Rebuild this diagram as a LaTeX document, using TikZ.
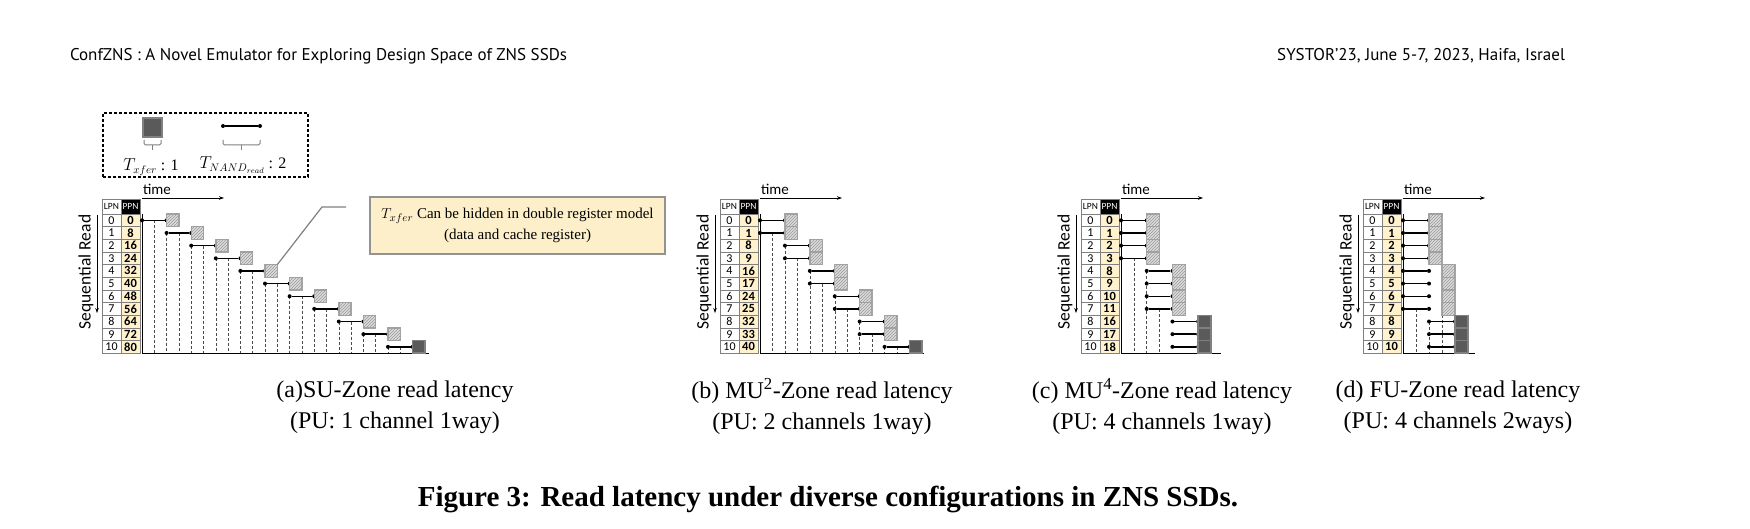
\documentclass[tikz,border=0pt]{standalone}
\usepackage{fontspec}
\setmainfont{Liberation Serif}
\newfontfamily\hdrfont{PT Sans}
\newfontfamily\calfont{Carlito}
\usetikzlibrary{patterns,arrows.meta}

\definecolor{cellyel}{HTML}{FFF2CC}
\definecolor{noteyel}{HTML}{FCEFC9}
\definecolor{sqborder}{HTML}{A6A6A6}
\definecolor{sqfill}{HTML}{DCDCDC}
\definecolor{darksq}{HTML}{5A5A5A}
\definecolor{tblline}{HTML}{808080}

\def\Yh{199}
\def\Yr{214}
\def\rh{12.65}
\def\Yb{353.15}

\tikzset{
  every node/.style={inner sep=0pt, outer sep=0pt},
  lpncell/.style={draw=tblline, line width=0.6pt, minimum width=19pt, minimum height=12.65pt, anchor=north west, font=\calfont\fontsize{12}{12}\selectfont},
  ppncell/.style={lpncell, fill=cellyel, font=\calfont\bfseries\fontsize{12.5}{12.5}\selectfont},
  hdrL/.style={draw=tblline, line width=0.6pt, minimum width=19pt, minimum height=15pt, anchor=north west, font=\calfont\fontsize{9.5}{9.5}\selectfont},
  hdrP/.style={hdrL, fill=black, text=white},
  seqlabel/.style={font=\calfont\fontsize{17.5}{17.5}\selectfont, rotate=90},
  timelabel/.style={font=\calfont\fontsize{15}{15}\selectfont, anchor=west},
  thinarrow/.style={line width=0.7pt, -{Stealth[length=5pt,width=3.5pt]}},
  nandline/.style={line width=1.4pt},
  enddot/.style={circle, fill=black, minimum size=4pt},
  lsq/.style={draw=sqborder, line width=1.4pt, fill=sqfill, postaction={pattern=north east lines, pattern color=gray!80}},
  dsq/.style={draw=gray, line width=1.4pt, fill=darksq},
  gridline/.style={densely dashed, line width=0.5pt, draw=black!70},
  axisline/.style={line width=0.6pt},
  subcap/.style={font=\fontsize{24}{31}\selectfont, align=center},
  bracket/.style={draw=gray, line width=1pt, rounded corners=1.5pt},
}

% #1 prefix, #2 X0, #3 unit, #4 PPN list, #5 segments s/q/style, #6 dashed j/row, #7 axis end (slots)
\newcommand\zpanel[7]{%
  \pgfmathsetmacro\tz{#2+40}%
  \node[hdrL] (#1-hl) at (#2,\Yh) {LPN};
  \node[hdrP] (#1-hp) at (#2+19,\Yh) {PPN};
  \foreach \pv [count=\kk from 0] in {#4} {
    \node[lpncell] (#1-l\kk) at (#2,\Yr+\kk*\rh) {\kk};
    \node[ppncell] (#1-p\kk) at (#2+19,\Yr+\kk*\rh) {\pv};
  }
  \foreach \jj/\rw in {#6} {
    \draw[gridline] (\tz+\jj*#3,\Yr+\rw*\rh+0.5*\rh) -- (\tz+\jj*#3,\Yb);
  }
  \coordinate (#1-o) at (\tz,\Yb);
  \coordinate (#1-top) at (\tz,\Yr);
  \coordinate (#1-end) at (\tz+#7*#3,\Yb);
  \draw[axisline] (#1-top) -- (#1-o) -- (#1-end);
  \coordinate (#1-t0) at (\tz,198);
  \coordinate (#1-t1) at (\tz+82,198);
  \draw[thinarrow] (#1-t0) -- (#1-t1);
  \node[timelabel] (#1-time) at (\tz+1,189) {time};
  \node[seqlabel] (#1-seq) at (#2-16,272) {Sequential Read};
  \coordinate (#1-sa) at (#2-5,\Yr+1);
  \coordinate (#1-sb) at (#2-5,313);
  \draw[thinarrow] (#1-sa) -- (#1-sb);
  \foreach \sa/\qa/\sty [count=\kk from 0] in {#5} {
    \pgfmathsetmacro\yy{\Yr+(\kk+0.5)*\rh}
    \node[enddot] (#1-s\kk) at (\tz+\sa*#3,\yy) {};
    \node[enddot] (#1-e\kk) at (\tz+\sa*#3+2*#3,\yy) {};
    \draw[nandline] (#1-s\kk) -- (#1-e\kk);
    \node[\sty, minimum width=#3*1pt, minimum height=\rh*1pt] (#1-q\kk) at (\tz+\qa*#3+0.5*#3,\yy) {};
  }
}

\begin{document}
\begin{tikzpicture}[x=1pt,y=-1pt]
\useasboundingbox (0,0) rectangle (1750,529);
\fill[white] (0,0) rectangle (1750,529);

% running header
\node[anchor=base west, font=\hdrfont\fontsize{17}{17}\selectfont] (hdl) at (70,61) {ConfZNS : A Novel Emulator for Exploring Design Space of ZNS SSDs};
\node[anchor=base east, font=\hdrfont\fontsize{17}{17}\selectfont] (hdr) at (1565,61) {SYSTOR’23, June 5-7, 2023, Haifa, Israel};

% legend
\node[draw, line width=1.3pt, dash pattern=on 3pt off 2pt, minimum width=205pt, minimum height=64pt] (legend) at (205.5,145) {};
\node[dsq, minimum size=19pt] (lgx) at (152.5,127.5) {};
\draw[bracket] (144,140) -- (144,145) -- (161,145) -- (161,140);
\draw[bracket] (152.5,145) -- (152.5,150);
\node[enddot] (lgn1) at (223,126) {};
\node[enddot] (lgn2) at (260,126) {};
\draw[nandline] (lgn1) -- (lgn2);
\draw[bracket] (223,140) -- (223,145) -- (260,145) -- (260,140);
\draw[bracket] (241.5,145) -- (241.5,150);
\node[font=\fontsize{16}{16}\selectfont] (lgt1) at (151,167) {$T_{xfer}$ : 1};
\node[font=\fontsize{16}{16}\selectfont] (lgt2) at (243,165) {$T_{NAND_{read}}$ : 2};

% panels
\zpanel{a}{102}{12.3}{0,8,16,24,32,40,48,56,64,72,80}
  {0/2/lsq,2/4/lsq,4/6/lsq,6/8/lsq,8/10/lsq,10/12/lsq,12/14/lsq,14/16/lsq,16/18/lsq,18/20/lsq,20/22/dsq}
  {1/0,2/1,3/1,4/2,5/2,6/3,7/3,8/4,9/4,10/5,11/5,12/6,13/6,14/7,15/7,16/8,17/8,18/9,19/9,20/10,21/10}
  {23.3}
\zpanel{b}{720}{12.46}{0,1,8,9,16,17,24,25,32,33,40}
  {0/2/lsq,0/2/lsq,2/4/lsq,2/4/lsq,4/6/lsq,4/6/lsq,6/8/lsq,6/8/lsq,8/10/lsq,8/10/lsq,10/12/dsq}
  {1/1,2/2,3/3,4/4,5/5,6/6,7/7,8/8,9/9,10/10,11/10}
  {13.2}
\zpanel{c}{1081}{12.86}{0,1,2,3,8,9,10,11,16,17,18}
  {0/2/lsq,0/2/lsq,0/2/lsq,0/2/lsq,2/4/lsq,2/4/lsq,2/4/lsq,2/4/lsq,4/6/dsq,4/6/dsq,4/6/dsq}
  {1/3,2/4,3/7}
  {7.8}
\zpanel{d}{1363}{13}{0,1,2,3,4,5,6,7,8,9,10}
  {0/2/lsq,0/2/lsq,0/2/lsq,0/2/lsq,0/3/lsq,0/3/lsq,0/3/lsq,0/3/lsq,2/4/dsq,2/4/dsq,2/4/dsq}
  {1/7,2/8,3/7.5}
  {5.5}

% callout
\node[draw=gray!85, line width=1.5pt, fill=noteyel, minimum width=295pt, minimum height=57pt, align=center, font=\fontsize{15}{21}\selectfont] (note) at (517.5,225.5) {$T_{xfer}$ Can be hidden in double register model\\(data and cache register)};
\coordinate (cp1) at (322,207);
\coordinate (cp2) at (346,207);
\draw[draw=gray, line width=1.2pt] (a-q4.north east) -- (cp1) -- (cp2);

% subcaptions
\node[subcap] (capa) at (395,407) {(a)SU-Zone read latency\\(PU: 1 channel 1way)};
\node[subcap] (capb) at (822,407) {(b) MU\textsuperscript{2}-Zone read latency\\(PU: 2 channels 1way)};
\node[subcap] (capc) at (1162,407) {(c) MU\textsuperscript{4}-Zone read latency\\(PU: 4 channels 1way)};
\node[subcap] (capd) at (1458,407) {(d) FU-Zone read latency\\(PU: 4 channels 2ways)};

% caption
\node[anchor=base, font=\bfseries\fontsize{29}{29}\selectfont] (fig) at (828,506) {Figure 3: Read latency under diverse configurations in ZNS SSDs.};
\end{tikzpicture}
\end{document}
